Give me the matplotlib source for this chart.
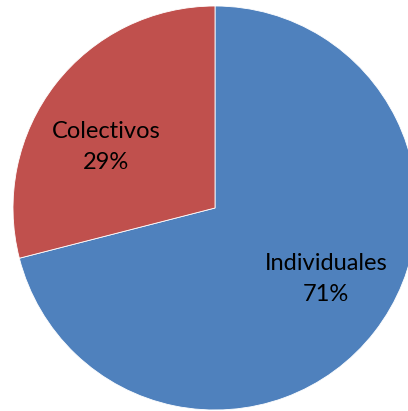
import matplotlib
matplotlib.use("Agg")
import matplotlib.pyplot as plt

categorias = ["Individuales", "Colectivos"]
porcentajes = [71, 29]
colores = ["#4F81BD", "#C0504D"]

W, H = 408, 411
cx, cy, r = 215, 208, 202  # pie centre / radius in pixels

fig = plt.figure(figsize=(W / 100, H / 100), dpi=100)
ax = fig.add_axes([0, 0, 1, 1])
ax.pie(porcentajes, colors=colores, startangle=90, counterclock=False,
       wedgeprops=dict(linewidth=0.6, edgecolor="white"))
ax.set_xlim(-cx / r, (W - cx) / r)
ax.set_ylim(-(H - cy) / r, cy / r)
ax.set_aspect("auto")
ax.axis("off")

# label positions in pixels (from the reference)
pos_etiquetas = [(326, 279), (106, 147)]
for cat, p, (px, py) in zip(categorias, porcentajes, pos_etiquetas):
    ax.text((px - cx) / r, (cy - py) / r, f"{cat}\n{p}%", ha="center", va="center",
            fontsize=17, family=["Lato", "DejaVu Sans"], linespacing=1.55)

fig.savefig("out.png", dpi=100)
